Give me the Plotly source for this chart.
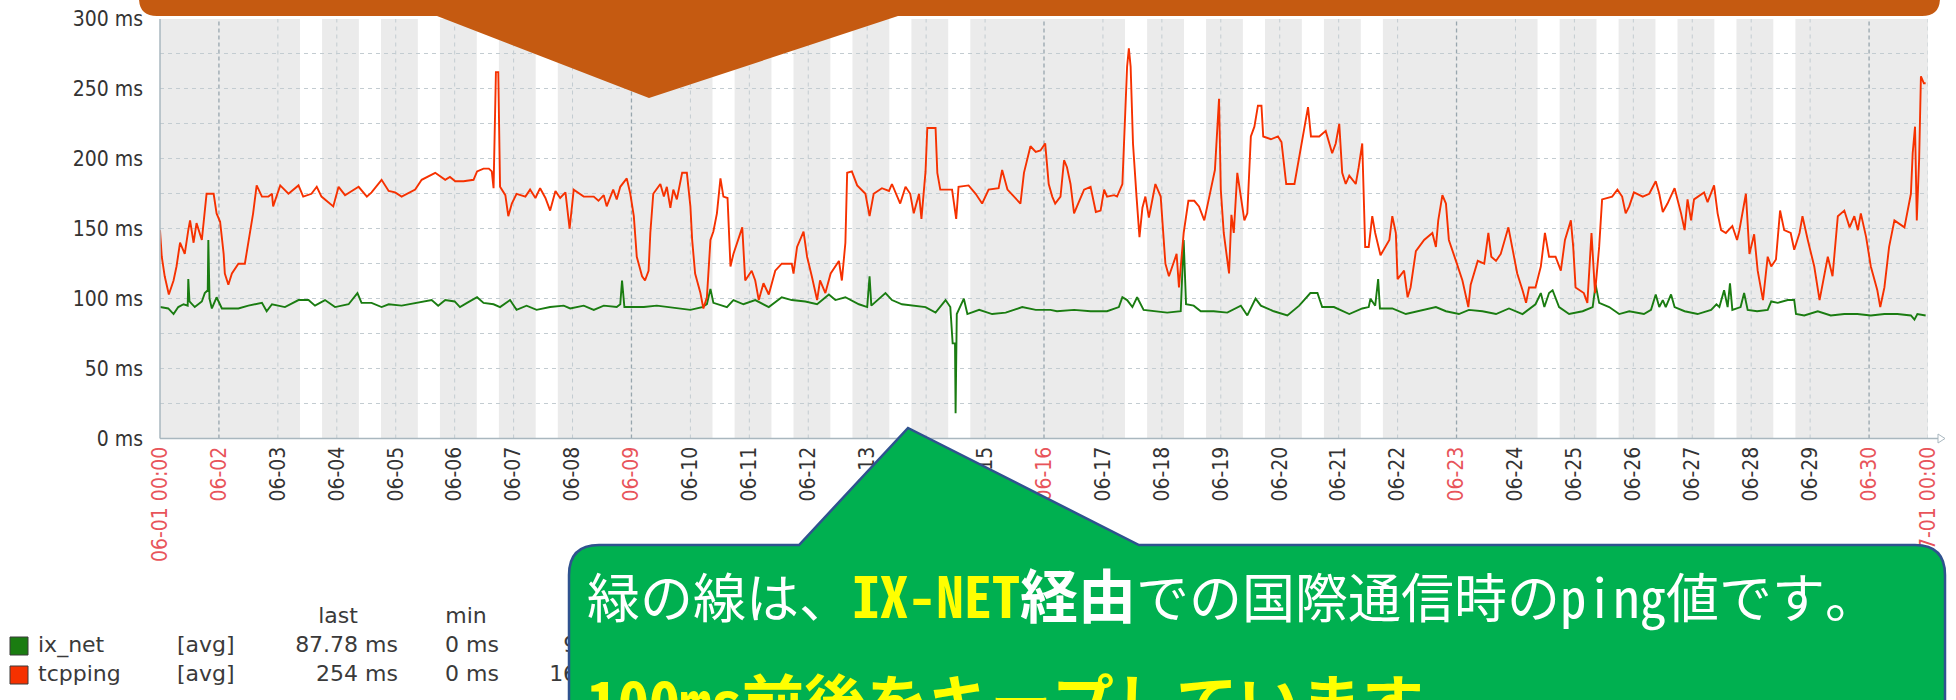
import pandas as pd
import plotly.graph_objects as go

W, H = 1956, 700

# ---------------- data (day offset from 2019-06-01 00:00, value in ms) ----------------
tcp_days = [0.0, 0.03, 0.08, 0.15, 0.23, 0.28, 0.34, 0.42, 0.48, 0.51, 0.57, 0.62, 0.71, 0.74, 0.79, 0.91, 0.96,
            1.02, 1.08, 1.1, 1.16, 1.22, 1.33, 1.44, 1.5, 1.53, 1.58, 1.64, 1.73, 1.84, 1.9, 1.92,
            2.04, 2.18, 2.35, 2.43, 2.57, 2.66, 2.74, 2.94, 3.03, 3.14, 3.37, 3.51, 3.59, 3.76, 3.88, 3.99,
            4.1, 4.33, 4.44, 4.67, 4.84, 4.92, 5.01, 5.15, 5.32, 5.38, 5.49, 5.58, 5.63, 5.66, 5.7, 5.74, 5.77,
            5.86, 5.91, 5.97, 6.05, 6.2, 6.28, 6.37, 6.45, 6.54, 6.62, 6.71, 6.79, 6.88, 6.95, 7.02, 7.19, 7.36,
            7.44, 7.53, 7.58, 7.69, 7.75, 7.81, 7.92, 7.98, 8.04, 8.09, 8.18, 8.23, 8.29, 8.32, 8.37, 8.49, 8.55,
            8.6, 8.66, 8.71, 8.77, 8.86, 8.94, 9.0, 9.03, 9.08, 9.17, 9.22, 9.28, 9.34, 9.39, 9.45, 9.51, 9.56,
            9.63, 9.68, 9.73, 9.88, 9.93, 10.04, 10.1, 10.16, 10.24, 10.33, 10.44, 10.55, 10.72, 10.75, 10.81,
            10.92, 10.98, 11.06, 11.15, 11.2, 11.29, 11.38, 11.52, 11.57, 11.63, 11.66, 11.74, 11.83, 11.97,
            12.04, 12.11, 12.25, 12.37, 12.42, 12.56, 12.65, 12.73, 12.79, 12.88, 12.92, 12.99, 13.02, 13.16,
            13.19, 13.24, 13.44, 13.51, 13.55, 13.72, 13.84, 13.95, 14.06, 14.23, 14.29, 14.38, 14.6, 14.66,
            14.77, 14.86, 14.94, 15.02, 15.08, 15.14, 15.19, 15.28, 15.34, 15.39, 15.45, 15.51, 15.56, 15.68,
            15.79, 15.88, 15.96, 16.02, 16.07, 16.19, 16.24, 16.33, 16.41, 16.44, 16.47, 16.51, 16.57, 16.62,
            16.67, 16.72, 16.78, 16.89, 16.98, 17.03, 17.06, 17.12, 17.25, 17.29, 17.37, 17.45, 17.55, 17.63,
            17.72, 17.83, 17.9, 17.97, 18.0, 18.05, 18.14, 18.18, 18.22, 18.28, 18.34, 18.4, 18.45, 18.51,
            18.57, 18.63, 18.69, 18.72, 18.85, 18.97, 19.03, 19.11, 19.25, 19.37, 19.48, 19.53, 19.67, 19.78,
            19.89, 19.95, 20.01, 20.06, 20.12, 20.18, 20.29, 20.34, 20.4, 20.45, 20.51, 20.57, 20.62, 20.71,
            20.86, 20.91, 20.97, 21.0, 21.11, 21.17, 21.22, 21.31, 21.45, 21.59, 21.65, 21.69, 21.76, 21.82,
            21.87, 21.99, 22.1, 22.2, 22.24, 22.36, 22.47, 22.54, 22.59, 22.67, 22.75, 22.88, 22.98, 23.03,
            23.12, 23.18, 23.23, 23.34, 23.43, 23.5, 23.57, 23.68, 23.77, 23.84, 23.94, 23.98, 24.02, 24.16,
            24.22, 24.29, 24.35, 24.42, 24.47, 24.64, 24.73, 24.81, 24.87, 24.93, 25.01, 25.16, 25.27, 25.38,
            25.44, 25.5, 25.58, 25.7, 25.81, 25.87, 25.92, 25.98, 26.03, 26.2, 26.26, 26.37, 26.43, 26.49,
            26.57, 26.68, 26.76, 26.8, 26.91, 26.97, 27.05, 27.11, 27.2, 27.28, 27.34, 27.42, 27.49, 27.56,
            27.67, 27.73, 27.82, 27.87, 27.96, 28.07, 28.16, 28.24, 28.3, 28.38, 28.47, 28.58, 28.67, 28.75,
            28.81, 28.86, 28.95, 29.03, 29.14, 29.19, 29.26, 29.34, 29.43, 29.6, 29.65, 29.71, 29.74, 29.78,
            29.81, 29.85, 29.88, 29.93, 29.96]
tcp_ms = [149, 130, 116, 103, 113, 123, 140, 132, 149, 156, 140, 154, 142, 156, 175, 175, 161,
          155, 132, 118, 110, 118, 125, 125, 140, 149, 161, 181, 173, 173, 175, 166,
          181, 175, 181, 173, 175, 180, 173, 166, 180, 174, 180, 173, 176, 185, 177, 176,
          173, 178, 185, 190, 185, 187, 184, 184, 185, 191, 193, 193, 191, 179, 262, 262, 180,
          174, 159, 168, 175, 173, 178, 172, 179, 172, 163, 177, 172, 176, 150, 178, 173, 173,
          170, 174, 166, 178, 171, 180, 186, 175, 159, 130, 116, 113, 120, 147, 175, 182, 173,
          180, 165, 178, 171, 190, 190, 166, 142, 118, 104, 93, 101, 142, 148, 161, 186, 173,
          172, 123, 132, 151, 113, 120, 113, 99, 111, 103, 120, 125, 125, 118, 137,
          148, 130, 116, 99, 113, 104, 118, 127, 113, 140, 190, 191, 181, 175,
          159, 175, 179, 177, 182, 168, 180, 175, 161, 175, 157, 191, 222, 222,
          190, 178, 178, 157, 180, 181, 175, 168, 178, 179, 192, 178, 168, 190,
          209, 205, 206, 211, 182, 173, 168, 173, 199, 194, 182, 161, 166, 178,
          180, 162, 163, 178, 173, 174, 173, 182, 266, 279, 266, 211, 173, 144,
          165, 173, 158, 182, 173, 145, 125, 116, 132, 108, 147, 170, 170, 166,
          156, 178, 192, 243, 178, 147, 118, 160, 147, 190, 173, 156, 161, 216,
          223, 238, 238, 216, 214, 216, 212, 182, 182, 212, 237, 216, 216, 220,
          204, 211, 225, 190, 182, 188, 182, 194, 211, 137, 137, 159, 147, 131,
          142, 159, 147, 114, 120, 101, 108, 134, 142, 147, 137, 156, 174, 168,
          142, 127, 113, 94, 110, 127, 125, 147, 130, 127, 132, 151, 127, 118,
          106, 97, 108, 108, 123, 147, 130, 130, 120, 142, 156, 137, 108, 104,
          97, 147, 104, 137, 171, 173, 178, 173, 161, 166, 176, 173, 175, 184,
          175, 162, 168, 179, 161, 149, 171, 156, 171, 176, 169, 181, 161, 149,
          147, 152, 142, 149, 175, 132, 146, 120, 99, 130, 123, 128, 163, 149,
          147, 135, 147, 159, 142, 123, 99, 118, 130, 116, 159, 163, 151, 159,
          149, 161, 144, 123, 106, 94, 108, 137, 156, 151, 161, 175, 204, 223,
          156, 200, 259, 254, 254]

ix_days = [0.0, 0.14, 0.23, 0.31, 0.4, 0.47, 0.48, 0.5, 0.59, 0.71, 0.76, 0.81, 0.82, 0.84, 0.88, 0.96, 1.05,
           1.33, 1.5, 1.73, 1.81, 1.9, 2.12, 2.35, 2.52, 2.63, 2.8, 2.97, 3.2, 3.35, 3.42, 3.59, 3.76, 3.88,
           4.1, 4.33, 4.61, 4.72, 4.84, 5.0, 5.09, 5.21, 5.38, 5.49, 5.66, 5.77, 5.94, 6.05, 6.22, 6.39, 6.62,
           6.85, 6.96, 7.19, 7.36, 7.53, 7.75, 7.81, 7.84, 7.88, 8.21, 8.43, 8.66, 9.0, 9.2, 9.28, 9.34, 9.39,
           9.62, 9.73, 9.9, 10.1, 10.33, 10.55, 10.72, 10.95, 11.15, 11.35, 11.46, 11.63, 11.86, 12.0, 12.04,
           12.07, 12.31, 12.42, 12.59, 12.76, 12.99, 13.16, 13.33, 13.41, 13.45, 13.49, 13.5, 13.52, 13.64,
           13.7, 13.9, 14.12, 14.35, 14.63, 14.86, 15.11, 15.22, 15.51, 15.79, 16.07, 16.27, 16.33, 16.41,
           16.5, 16.58, 16.69, 16.87, 17.09, 17.32, 17.35, 17.37, 17.41, 17.54, 17.66, 17.88, 18.11, 18.34,
           18.45, 18.59, 18.68, 18.9, 19.13, 19.33, 19.52, 19.64, 19.72, 19.92, 20.18, 20.4, 20.51, 20.54,
           20.62, 20.66, 20.67, 20.7, 20.91, 21.14, 21.42, 21.65, 21.82, 22.04, 22.21, 22.44, 22.67, 22.89,
           23.12, 23.34, 23.43, 23.49, 23.57, 23.63, 23.74, 23.91, 24.14, 24.31, 24.36, 24.42, 24.59, 24.76,
           24.93, 25.18, 25.3, 25.38, 25.44, 25.5, 25.55, 25.64, 25.7, 25.87, 26.09, 26.32, 26.41, 26.46,
           26.54, 26.6, 26.64, 26.68, 26.82, 26.88, 26.94, 27.1, 27.28, 27.34, 27.45, 27.62, 27.73, 27.76,
           27.9, 28.13, 28.35, 28.58, 28.8, 29.03, 29.26, 29.48, 29.71, 29.77, 29.82, 29.96]
ix_ms = [94, 93, 89, 94, 96, 95, 114, 98, 94, 98, 104, 106, 142, 100, 93, 101, 93,
         93, 95, 97, 91, 96, 94, 99, 99, 95, 99, 94, 96, 104, 97, 97, 94, 96,
         95, 97, 99, 95, 99, 98, 94, 97, 101, 97, 96, 94, 99, 92, 95, 92, 94,
         95, 93, 95, 92, 95, 94, 96, 113, 94, 94, 95, 94, 92, 94, 96, 107, 97,
         94, 99, 96, 99, 94, 101, 99, 98, 96, 103, 99, 101, 96, 94, 116,
         95, 104, 99, 96, 95, 94, 90, 99, 94, 68, 68, 18, 89, 100,
         89, 92, 89, 90, 94, 92, 92, 91, 92, 91, 91, 94, 101, 99,
         94, 101, 92, 91, 90, 91, 120, 142, 96, 95, 91, 91, 90, 95,
         88, 100, 95, 91, 88, 95, 104, 104, 94, 94, 89, 93, 94, 100,
         95, 110, 114, 93, 93, 89, 92, 94, 91, 89, 92, 91, 89, 93,
         89, 96, 104, 94, 104, 106, 94, 89, 91, 94, 110, 97, 94, 89,
         91, 89, 92, 103, 94, 99, 94, 103, 94, 91, 89, 92, 96, 94,
         106, 94, 111, 92, 94, 104, 92, 91, 92, 98, 97, 99, 99, 89,
         88, 91, 88, 89, 89, 88, 89, 89, 88, 85, 89, 88]

day_labels = ["06-01 00:00"] + [f"06-{d:02d}" for d in range(2, 31)] + ["07-01 00:00"]
red_labels = ["06-01 00:00", "06-02", "06-09", "06-16", "06-23", "06-30", "07-01 00:00"]
y_ticks = [0, 25, 50, 75, 100, 125, 150, 175, 200, 225, 250, 275, 300]
y_labels = ["0 ms", "", "50 ms", "", "100 ms", "", "150 ms", "", "200 ms", "", "250 ms", "", "300 ms"]

legend_names = ["ix_net", "tcpping"]
legend_func = ["[avg]", "[avg]"]
legend_last = ["87.78 ms", "254 ms"]
legend_min = ["0 ms", "0 ms"]
legend_avg = ["93.87 ms", "162.51 ms"]
legend_header = ["last", "min", "avg"]

callout_line1 = ("緑の線は、<span style='color:#FFFF00;font-size:56px'><b>IX-NET</b></span>"
                 "<span style='font-size:58px'><b>経由</b></span>での国際通信時のping値です。")
callout_line2 = "<b>100ms前後をキープしています。</b>"

# ---------------- figure ----------------
ix_color = "#1A7C11"
tcp_color = "#F63100"
base = pd.Timestamp("2019-06-01")


def t(d):
    return (base + pd.Timedelta(seconds=round(d * 86400))).to_pydatetime()


def P(x, y):
    return f"{x / W:.5f},{1 - y / H:.5f}"


AX_FONT = "DejaVu Sans Condensed, DejaVu Sans, sans-serif"
LEG_FONT = "DejaVu Sans, sans-serif"
JP_FONT = "Noto Sans Mono CJK JP, Noto Sans CJK JP, sans-serif"

fig = go.Figure()
fig.add_trace(go.Scatter(x=[t(d) for d in ix_days], y=ix_ms, mode="lines",
                         line=dict(color=ix_color, width=1.9), hoverinfo="skip", showlegend=False))
fig.add_trace(go.Scatter(x=[t(d) for d in tcp_days], y=tcp_ms, mode="lines",
                         line=dict(color=tcp_color, width=1.9), hoverinfo="skip", showlegend=False))

# legend block (Zabbix-like) drawn as text on a full-figure overlay axis
lx, ly, lt, lp = [], [], [], []
for txt, x in zip(legend_header, [338, 466, 620]):
    lx.append(x); ly.append(617); lt.append(txt); lp.append("middle center")
for i in range(2):
    y = 646 + 29 * i
    lx += [38, 177, 398, 499, 666]
    ly += [y] * 5
    lt += [legend_names[i], legend_func[i], legend_last[i], legend_min[i], legend_avg[i]]
    lp += ["middle right", "middle right", "middle left", "middle left", "middle left"]
fig.add_trace(go.Scatter(x=lx, y=ly, text=lt, mode="text", textposition=lp,
                         textfont=dict(family=LEG_FONT, size=22, color="#3a3a3a"),
                         xaxis="x2", yaxis="y2", hoverinfo="skip", showlegend=False))

ticktext = [f"<span style='color:#e8545a'>{s}</span>" if s in red_labels else s for s in day_labels]

Y0, Y1 = 438.5, 19  # pixel rows of 0 ms and 300 ms
shapes = []
# plot background
shapes.append(dict(type="rect", xref="paper", yref="paper", x0=160 / W, x1=1928 / W,
                   y0=1 - Y0 / H, y1=1 - Y1 / H,
                   fillcolor="#ebebeb", line=dict(width=0), layer="below"))
# working-time bands (Mon-Fri 09:00-18:00)
for d in range(30):
    if t(d).weekday() < 5:
        shapes.append(dict(type="rect", xref="x", yref="paper", x0=t(d + 9 / 24),
                           x1=t(d + 18 / 24), y0=1 - Y0 / H, y1=1 - Y1 / H, fillcolor="#ffffff",
                           line=dict(width=0), layer="below"))
# day lines (darker on Sundays)
for d in range(1, 31):
    sunday = t(d).weekday() == 6
    shapes.append(dict(type="line", xref="x", yref="paper", x0=t(d), x1=t(d),
                       y0=1 - Y0 / H, y1=1 - Y1 / H,
                       line=dict(color="#98a6ae" if sunday else "#c3ccd1", width=1.3 if sunday else 1,
                                 dash="4px,3px" if sunday else "4px,4px"), layer="below"))
# axis lines + arrow
AXC = "#a9b7bf"
shapes.append(dict(type="line", xref="paper", yref="paper", x0=160 / W, x1=1938 / W,
                   y0=1 - Y0 / H, y1=1 - Y0 / H, line=dict(color=AXC, width=1.5), layer="above"))
shapes.append(dict(type="line", xref="paper", yref="paper", x0=160 / W, x1=160 / W,
                   y0=1 - Y0 / H, y1=1 - Y1 / H, line=dict(color=AXC, width=1.5), layer="above"))
shapes.append(dict(type="path", xref="paper", yref="paper",
                   path=f"M {P(1938, 434)} L {P(1945, 438.5)} L {P(1938, 443)} Z",
                   fillcolor="#ffffff", line=dict(color=AXC, width=1), layer="above"))
# legend swatches
for i, c in enumerate([ix_color, tcp_color]):
    yc = 646 + 29 * i
    shapes.append(dict(type="rect", xref="paper", yref="paper", x0=10 / W, x1=28 / W,
                       y0=1 - (yc + 9) / H, y1=1 - (yc - 9) / H, fillcolor=c,
                       line=dict(color="#3a3a3a", width=1), layer="above"))
# orange callout (top)
r = 18
L, R, B, T = 139, 1940, 16, -30
orange = (f"M {P(L, T)} L {P(R, T)} L {P(R, B - r)} Q {P(R, B)} {P(R - r, B)} "
          f"L {P(898, B)} L {P(649, 98)} L {P(437, B)} L {P(L + r, B)} Q {P(L, B)} {P(L, B - r)} Z")
shapes.append(dict(type="path", xref="paper", yref="paper", path=orange,
                   fillcolor="#C55A11", line=dict(width=0), layer="above"))
# green callout (bottom)
r = 30
L, R, T, B = 569, 1945, 545, 780
green = (f"M {P(L, B)} L {P(L, T + r)} Q {P(L, T)} {P(L + r, T)} L {P(799, T)} L {P(908, 428)} "
         f"L {P(1139, T)} L {P(R - r, T)} Q {P(R, T)} {P(R, T + r)} L {P(R, B)} Z")
shapes.append(dict(type="path", xref="paper", yref="paper", path=green,
                   fillcolor="#00B050", line=dict(color="#2F528F", width=2.5), layer="above"))

annotations = [
    dict(xref="paper", yref="paper", x=585 / W, y=1 - 593 / H, xanchor="left", yanchor="middle",
         text=callout_line1, showarrow=False, font=dict(family=JP_FONT, size=53, color="#ffffff")),
    dict(xref="paper", yref="paper", x=585 / W, y=1 - 700 / H, xanchor="left", yanchor="middle",
         text=callout_line2, showarrow=False, font=dict(family=JP_FONT, size=62, color="#FFFF00")),
]

fig.update_layout(
    width=W, height=H, autosize=False,
    margin=dict(l=0, r=0, t=0, b=0, pad=0),
    paper_bgcolor="#ffffff", plot_bgcolor="rgba(0,0,0,0)",
    hovermode=False, showlegend=False,
    xaxis=dict(domain=[160 / W, 1928 / W], type="date", range=[t(0), t(30)], automargin=False,
               tickvals=[t(d) for d in range(31)], ticktext=ticktext, tickangle=-90,
               tickfont=dict(family=AX_FONT, size=21, color="#333333"),
               showgrid=False, ticks="", showline=False, zeroline=False,
               ticklabelstandoff=3, fixedrange=True),
    yaxis=dict(domain=[1 - Y0 / H, 1 - Y1 / H], range=[0, 300], tickvals=y_ticks, ticktext=y_labels,
               automargin=False, tickfont=dict(family=AX_FONT, size=21, color="#333333"),
               showgrid=True, gridcolor="#c3ccd1", gridwidth=1, griddash="4px,4px",
               ticks="", showline=False, zeroline=False, ticklabelstandoff=16, fixedrange=True),
    xaxis2=dict(domain=[0, 1], range=[0, W], visible=False, anchor="y2", fixedrange=True, automargin=False),
    yaxis2=dict(domain=[0, 1], range=[H, 0], visible=False, anchor="x2", fixedrange=True, automargin=False),
    shapes=shapes,
    annotations=annotations,
)

fig.write_html(
    "out.html",
    config={"displayModeBar": False, "staticPlot": True},
    post_script="document.body.style.margin='0px';document.body.style.padding='0px';"
                "document.body.style.overflow='hidden';",
)
